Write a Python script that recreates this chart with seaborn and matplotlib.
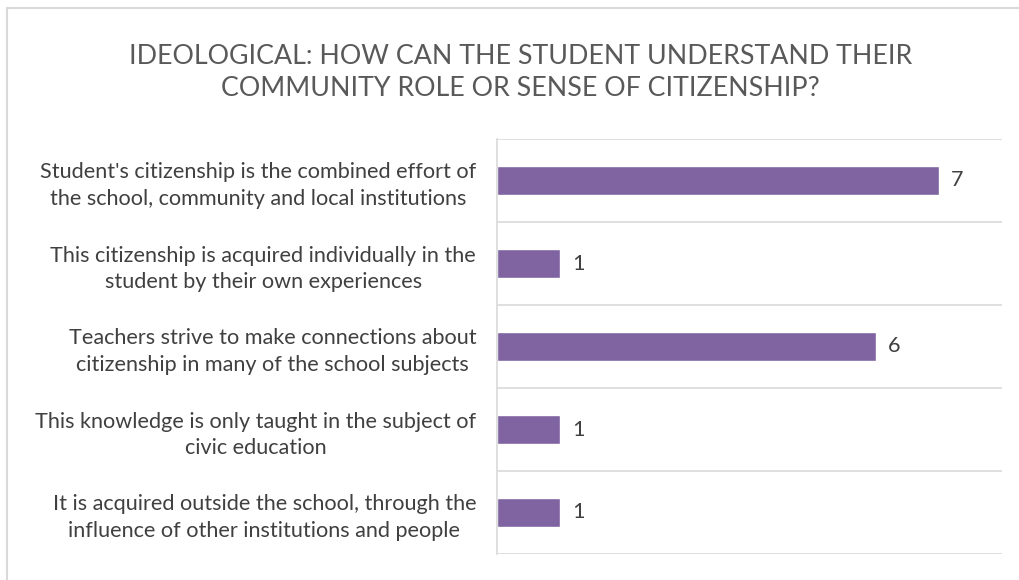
import matplotlib
matplotlib.use("Agg")
import matplotlib.pyplot as plt
import matplotlib.patches as mpatches
import numpy as np
import pandas as pd
import seaborn as sns

title = "IDEOLOGICAL: HOW CAN THE STUDENT UNDERSTAND THEIR\nCOMMUNITY ROLE OR SENSE OF CITIZENSHIP?"
categories = [
    "Student's citizenship is the combined effort of\nthe school, community and local institutions",
    "This citizenship is acquired individually in the\nstudent by their own experiences",
    "Teachers strive to make connections about\ncitizenship in many of the school subjects",
    "This knowledge is only taught in the subject of\ncivic education",
    "It is acquired outside the school, through the\ninfluence of other institutions and people",
]
counts = [7, 1, 6, 1, 1]

BAR = "#8064A2"
GRID = "#D9D9D9"
TEXT = "#595959"

sns.set_theme(style="white")
plt.rcParams["font.family"] = ["Lato", "DejaVu Sans"]

df = pd.DataFrame({"answer": categories, "count": counts})

fig = plt.figure(figsize=(10.2, 5.8), dpi=100)
ax = fig.add_axes([497 / 1020, 1 - 554 / 580, (1002 - 497) / 1020, (554 - 139) / 580])

sns.barplot(data=df, y="answer", x="count", orient="h", color=BAR,
            width=0.36, saturation=1, ax=ax)

ax.set_xlim(0, 8)
ax.set_ylim(len(categories) - 0.5, -0.5)
ax.set_xlabel("")
ax.set_ylabel("")
ax.set_xticks([])

# separators between categories
ax.set_yticks(np.arange(-0.5, len(categories)), minor=True)
ax.grid(True, which="minor", axis="y", color=GRID, linewidth=1.2)
ax.grid(False, which="major")
ax.tick_params(axis="y", which="both", length=0, pad=15)
ax.tick_params(axis="y", which="major", labelsize=15.6, labelcolor="#404040")
for lbl in ax.get_yticklabels():
    lbl.set_multialignment("center")
    lbl.set_linespacing(1.38)

for side in ["top", "right", "bottom"]:
    ax.spines[side].set_visible(False)
ax.spines["left"].set_color(GRID)
ax.spines["left"].set_linewidth(1.2)

for cont in ax.containers:
    ax.bar_label(cont, labels=[str(v) for v in counts], padding=9,
                 fontsize=15.6, color="#404040")

fig.text(0.51, 1 - 72.5 / 580, title, ha="center", va="center",
         fontsize=19.3, color=TEXT, linespacing=1.37)

# chart-area frame
fig.add_artist(mpatches.Rectangle((7 / 1020, -0.02), 1.05, 1 - 7.5 / 580 + 0.02,
                                  transform=fig.transFigure, fill=False,
                                  edgecolor=GRID, linewidth=1.5))

fig.savefig("out.png", dpi=100)
